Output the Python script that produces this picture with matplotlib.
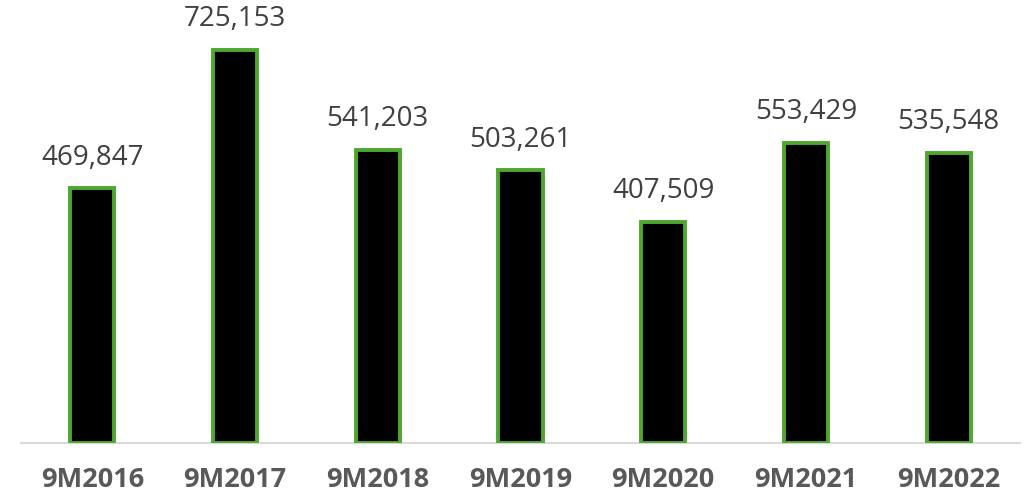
import matplotlib.pyplot as plt

periods = ['9M2016', '9M2017', '9M2018', '9M2019', '9M2020', '9M2021', '9M2022']
volumes = [469847, 725153, 541203, 503261, 407509, 553429, 535548]

plt.rcParams['font.family'] = ['Open Sans', 'DejaVu Sans']

fig = plt.figure(figsize=(10.31, 4.99), dpi=100)
ax = fig.add_axes([21 / 1031, 56 / 499, 999 / 1031, 420 / 499])

x = range(len(periods))
bars = ax.bar(x, volumes, width=0.31, color='black', edgecolor='#4ea72e', linewidth=2.8, zorder=3)

for b, v in zip(bars, volumes):
    ax.annotate(f'{v:,}', (b.get_x() + b.get_width() / 2, v), xytext=(0, 12),
                textcoords='offset points', ha='center', va='bottom',
                fontsize=20, color='#404040')

ax.set_xlim(-0.5, len(periods) - 0.5)
ax.set_ylim(0, 775000)
ax.set_xticks(list(x))
ax.set_xticklabels(periods, fontsize=19.5, fontweight='bold', color='#595959')
ax.tick_params(axis='x', length=0, pad=17)
ax.set_yticks([])
for s in ['top', 'right', 'left']:
    ax.spines[s].set_visible(False)
ax.spines['bottom'].set_color('#d9d9d9')
ax.spines['bottom'].set_linewidth(1.5)

fig.savefig('out.png', dpi=100)
